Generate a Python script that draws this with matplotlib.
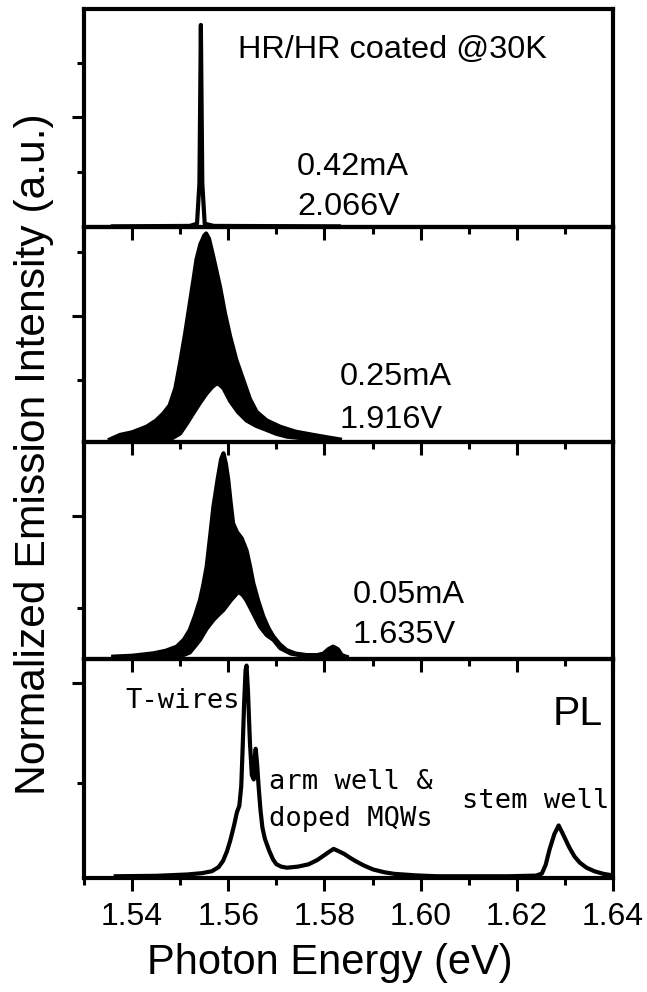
import matplotlib
matplotlib.use("Agg")
import numpy as np
import matplotlib.pyplot as plt
from matplotlib.ticker import MultipleLocator, FormatStrFormatter

plt.rcParams['font.family'] = ['Liberation Sans', 'DejaVu Sans']

# --- data (intensity as fraction of each panel height) ---

# 0.42 mA, lasing line
las_e = [1.5360, 1.5520, 1.5535, 1.5540, 1.5543, 1.5546, 1.5551, 1.5570, 1.5830]
las_i = [0.003, 0.005, 0.015, 0.20, 0.927, 0.20, 0.015, 0.005, 0.003]

# 0.25 mA, mode-modulated spectrum: upper and lower envelopes
e25_up = [1.5354, 1.5375, 1.5400, 1.5430, 1.5450, 1.5465, 1.5478, 1.5490, 1.5500,
          1.5510, 1.5520, 1.5528, 1.5534, 1.5542, 1.5550, 1.5554, 1.5560, 1.5569,
          1.5576, 1.5583, 1.5593, 1.5604, 1.5617, 1.5631, 1.5645, 1.5659, 1.5680,
          1.5708, 1.5740, 1.5777, 1.5805, 1.5832]
i25_up = [0.012, 0.033, 0.045, 0.071, 0.10, 0.133, 0.17, 0.25, 0.37,
          0.50, 0.645, 0.76, 0.85, 0.92, 0.96, 0.97, 0.945, 0.86,
          0.79, 0.72, 0.60, 0.49, 0.38, 0.29, 0.20, 0.14, 0.10,
          0.071, 0.048, 0.033, 0.022, 0.012]
e25_lo = [1.5354, 1.5479, 1.5500, 1.5515, 1.5527, 1.5542, 1.5555, 1.5566, 1.5576,
          1.5583, 1.5590, 1.5604, 1.5620, 1.5638, 1.5658, 1.5680, 1.5700, 1.5722,
          1.5777, 1.5832]
i25_lo = [0.008, 0.012, 0.04, 0.09, 0.133, 0.185, 0.226, 0.255, 0.273,
          0.265, 0.25, 0.19, 0.14, 0.10, 0.075, 0.056, 0.038, 0.025,
          0.012, 0.008]

# 0.05 mA
e05_up = [1.5361, 1.5400, 1.5444, 1.5470, 1.5493, 1.5508, 1.5520, 1.5531, 1.5541,
          1.5548, 1.5555, 1.5562, 1.5569, 1.5578, 1.5585, 1.5590, 1.5595, 1.5600,
          1.5605, 1.5610, 1.5618, 1.5628, 1.5638, 1.5645, 1.5652, 1.5662, 1.5673,
          1.5684, 1.5694, 1.5707, 1.5721, 1.5740, 1.5763, 1.5785, 1.5798, 1.5808,
          1.5818, 1.5828, 1.5836, 1.5846]
i05_up = [0.011, 0.015, 0.026, 0.038, 0.057, 0.09, 0.134, 0.20, 0.27,
          0.34, 0.425, 0.56, 0.70, 0.83, 0.92, 0.948, 0.90, 0.825,
          0.72, 0.625, 0.585, 0.556, 0.50, 0.43, 0.35, 0.27, 0.195,
          0.14, 0.103, 0.068, 0.041, 0.025, 0.018, 0.018, 0.025, 0.045,
          0.057, 0.045, 0.018, 0.010]
e05_lo = [1.5361, 1.5500, 1.5520, 1.5531, 1.5541, 1.5555, 1.5569, 1.5580, 1.5590,
          1.5605, 1.5621, 1.5630, 1.5638, 1.5652, 1.5666, 1.5680, 1.5694, 1.5708,
          1.5730, 1.5763, 1.5846]
i05_lo = [0.008, 0.012, 0.030, 0.06, 0.088, 0.14, 0.18, 0.205, 0.226,
          0.27, 0.31, 0.295, 0.27, 0.21, 0.149, 0.11, 0.088, 0.05,
          0.025, 0.012, 0.008]

# PL
pl_e = [1.5366, 1.5450, 1.5514, 1.5545, 1.5566, 1.5580, 1.5589, 1.5597, 1.5604,
        1.5612, 1.5618, 1.5623, 1.5627, 1.5630, 1.5633, 1.5636, 1.5638, 1.5641,
        1.5645, 1.5649, 1.5653, 1.5655, 1.5657, 1.5660, 1.5663, 1.5667, 1.5671,
        1.5676, 1.5685, 1.5693, 1.5700, 1.5710, 1.5722, 1.5745, 1.5767, 1.5785,
        1.5797, 1.5810, 1.5819, 1.5830, 1.5841, 1.5852, 1.5864, 1.5882, 1.5901,
        1.5925, 1.5945, 1.5990, 1.6034, 1.6183, 1.6240, 1.6252, 1.6260, 1.6268,
        1.6278, 1.6287, 1.6296, 1.6309, 1.6320, 1.6331, 1.6345, 1.6361, 1.6380,
        1.6398]
pl_i = [0.008, 0.010, 0.016, 0.022, 0.031, 0.05, 0.078, 0.12, 0.17,
        0.24, 0.30, 0.33, 0.42, 0.60, 0.80, 0.95, 0.97, 0.85,
        0.62, 0.47, 0.45, 0.55, 0.59, 0.52, 0.42, 0.31, 0.23,
        0.18, 0.125, 0.085, 0.063, 0.052, 0.047, 0.052, 0.0625, 0.082,
        0.10, 0.12, 0.133, 0.122, 0.11, 0.094, 0.078, 0.057, 0.039,
        0.026, 0.019, 0.012, 0.008, 0.008, 0.011, 0.02, 0.06, 0.13,
        0.20, 0.24, 0.20, 0.14, 0.098, 0.07, 0.047, 0.031, 0.019,
        0.0125]

# y tick positions (fraction of panel) per panel: (major, minor)
yticks = [([0.505], [0.252, 0.752]),
          ([0.586], [0.288, 0.884]),
          ([0.659], [0.235]),
          ([0.890], [0.434])]

# --- figure ---
W, H = 647, 992
fig = plt.figure(figsize=(W / 100, H / 100), dpi=100)
edges = [9, 227, 442, 659, 878]
left, right = 84, 613
axes = []
for k in range(4):
    t, b = edges[k], edges[k + 1]
    ax = fig.add_axes([left / W, 1 - b / H, (right - left) / W, (b - t) / H])
    ax.patch.set_alpha(0)
    axes.append(ax)

lw = 3.0
for k, ax in enumerate(axes):
    ax.set_xlim(1.53, 1.64)
    ax.set_ylim(0, 1)
    for s in ax.spines.values():
        s.set_linewidth(3.0)
    ax.xaxis.set_major_locator(MultipleLocator(0.02))
    ax.xaxis.set_minor_locator(MultipleLocator(0.01))
    ax.set_yticks(yticks[k][0])
    ax.set_yticks(yticks[k][1], minor=True)
    ax.set_yticklabels([])
    ax.tick_params(which='both', direction='out', top=False, right=False, width=2.2)
    ax.tick_params(which='major', length=9)
    ax.tick_params(which='minor', length=5)
    ax.tick_params(axis='x', which='major', labelsize=23, pad=8)
    if k < 3:
        ax.set_xticklabels([])
    else:
        ax.xaxis.set_major_formatter(FormatStrFormatter('%.2f'))

ax1, ax2, ax3, ax4 = axes

ax1.plot(las_e, las_i, color='black', lw=lw, zorder=3)

for ax, eu, iu, el, il in [(ax2, e25_up, i25_up, e25_lo, i25_lo),
                           (ax3, e05_up, i05_up, e05_lo, i05_lo)]:
    ax.fill(list(eu) + list(el[::-1]), list(iu) + list(il[::-1]),
            color='black', lw=0, zorder=2)
    ax.plot(eu, iu, color='black', lw=lw, zorder=3, solid_joinstyle='round')
    ax.plot(el, il, color='black', lw=lw, zorder=3, solid_joinstyle='round')

ax4.plot(pl_e, pl_i, color='black', lw=lw, zorder=3, solid_joinstyle='round')

fs = 23.4
ax1.text(1.5620, 0.81, 'HR/HR coated @30K', fontsize=fs, ha='left', va='center')
ax1.text(1.5743, 0.275, '0.42mA', fontsize=fs, ha='left', va='center')
ax1.text(1.5743, 0.092, '2.066V', fontsize=fs, ha='left', va='center')
ax2.text(1.5832, 0.302, '0.25mA', fontsize=fs, ha='left', va='center')
ax2.text(1.5832, 0.10, '1.916V', fontsize=fs, ha='left', va='center')
ax3.text(1.5859, 0.295, '0.05mA', fontsize=fs, ha='left', va='center')
ax3.text(1.5859, 0.11, '1.635V', fontsize=fs, ha='left', va='center')

mono = dict(family='DejaVu Sans Mono', fontsize=19.5, ha='left', va='center')
ax4.text(1.5387, 0.81, 'T-wires', **mono)
ax4.text(1.5685, 0.44, 'arm well &', **mono)
ax4.text(1.5685, 0.27, 'doped MQWs', **mono)
ax4.text(1.6086, 0.35, 'stem well', **mono)
ax4.text(1.6275, 0.75, 'PL', fontsize=29.5, ha='left', va='center')

fig.text(330 / W, 1 - 963 / H, 'Photon Energy (eV)', fontsize=30,
         ha='center', va='center')
ylab = fig.text(34 / W, 1 - 454 / H, 'Normalized Emission Intensity (a.u.)',
                fontsize=30, rotation=90, ha='center', va='center',
                family=['Liberation Sans Narrow', 'Liberation Sans', 'DejaVu Sans'])
# fit the label length to the reference (about 680 px)
renderer = fig.canvas.get_renderer()
ext = ylab.get_window_extent(renderer)
ylab.set_fontsize(30 * 680 / ext.height)

fig.savefig('out.png', dpi=100, facecolor='white')
